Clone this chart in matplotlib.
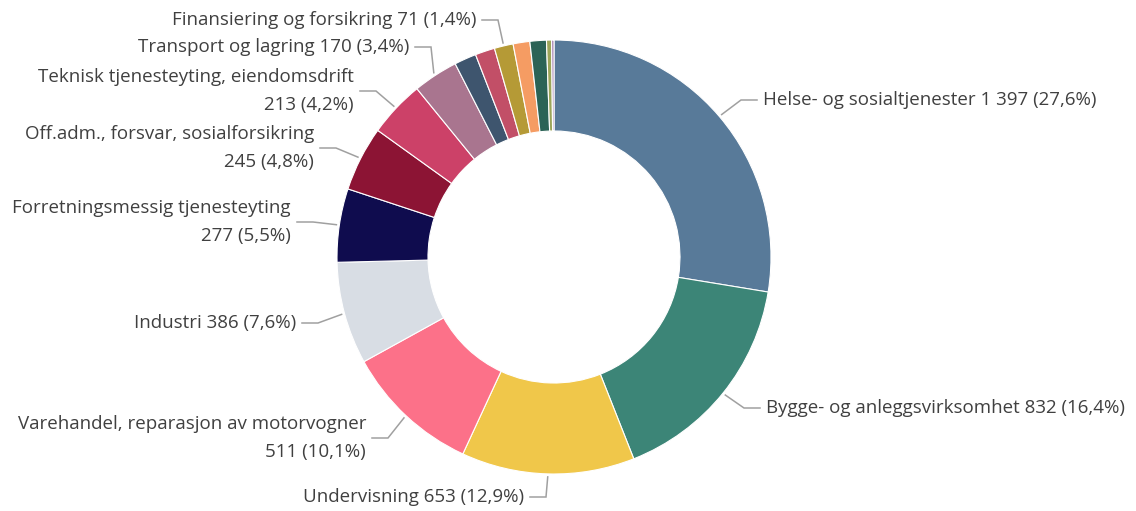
import numpy as np
import matplotlib.pyplot as plt

# employment by industry, clockwise from 12 o'clock
categories = [
    "Helse- og sosialtjenester",
    "Bygge- og anleggsvirksomhet",
    "Undervisning",
    "Varehandel, reparasjon av motorvogner",
    "Industri",
    "Forretningsmessig tjenesteyting",
    "Off.adm., forsvar, sosialforsikring",
    "Teknisk tjenesteyting, eiendomsdrift",
    "Transport og lagring",
    "Informasjon og kommunikasjon",
    "Overnattings- og serveringsvirksomhet",
    "Finansiering og forsikring",
    "Jordbruk, skogbruk og fiske",
    "Elektrisitet, vann og renovasjon",
    "Bergverksdrift og utvinning",
    "Uoppgitt",
]
values = [1397, 832, 653, 511, 386, 277, 245, 213, 170, 83, 74, 71, 63, 62, 19, 9]

colors = [
    "#587a99", "#3c8577", "#f0c74a", "#fc7189", "#d8dde4", "#0f0c4e",
    "#8c1434", "#cc4168", "#a9758f", "#3e556e", "#c24f67", "#b59a36",
    "#f59c63", "#2b6356", "#9ca559", "#a37fb0",
]

# label layout (pixel coords): connector end x, y, side, wrapped name/value
label_pos = {
    0: (757, 100, 1, False),
    1: (760, 408, 1, False),
    2: (530, 497, -1, False),
    3: (372, 438, -1, True),
    4: (302, 323, -1, False),
    5: (297, 222, -1, True),
    6: (320, 148, -1, True),
    7: (360, 91, -1, True),
    8: (415, 47, -1, False),
    11: (482, 20, -1, False),
}

W, H = 1136, 511
cx, cy = 554, 257
r_out = 217
r_in = 126

plt.rcParams["font.family"] = ["Open Sans", "DejaVu Sans"]

fig = plt.figure(figsize=(W / 100, H / 100), dpi=100)
ax = fig.add_axes([0, 0, 1, 1])

ax.pie(values, colors=colors, radius=r_out, center=(cx, cy),
       startangle=-90, counterclock=True,
       wedgeprops=dict(width=r_out - r_in, edgecolor="white", linewidth=0.8))

ax.set_xlim(0, W)
ax.set_ylim(H, 0)
ax.set_aspect("equal")
ax.axis("off")

total = sum(values)
fracs = np.array(values) / total
cum = np.concatenate([[0], np.cumsum(fracs)])


def fmt_num(v):
    return f"{v:,}".replace(",", " ")


for i, (ex, ey, side, wrap) in label_pos.items():
    theta = np.deg2rad(-90 + 360 * (cum[i] + fracs[i] / 2))
    p0 = (cx + (r_out + 3) * np.cos(theta), cy + (r_out + 3) * np.sin(theta))
    elbow = (ex - side * 16, ey)
    ax.plot([p0[0], elbow[0], ex], [p0[1], elbow[1], ey],
            color="#a0a0a0", lw=1.1, solid_joinstyle="miter")
    pct = f"{fracs[i] * 100:.1f}".replace(".", ",")
    value_txt = f"{fmt_num(values[i])} ({pct}%)"
    sep = "\n" if wrap else " "
    txt = categories[i] + sep + value_txt
    ax.text(ex + side * 6, ey, txt, fontsize=13.5, color="#404040",
            ha="left" if side > 0 else "right", va="center",
            multialignment="left" if side > 0 else "right",
            linespacing=1.72)

fig.savefig("out.png", dpi=100)
